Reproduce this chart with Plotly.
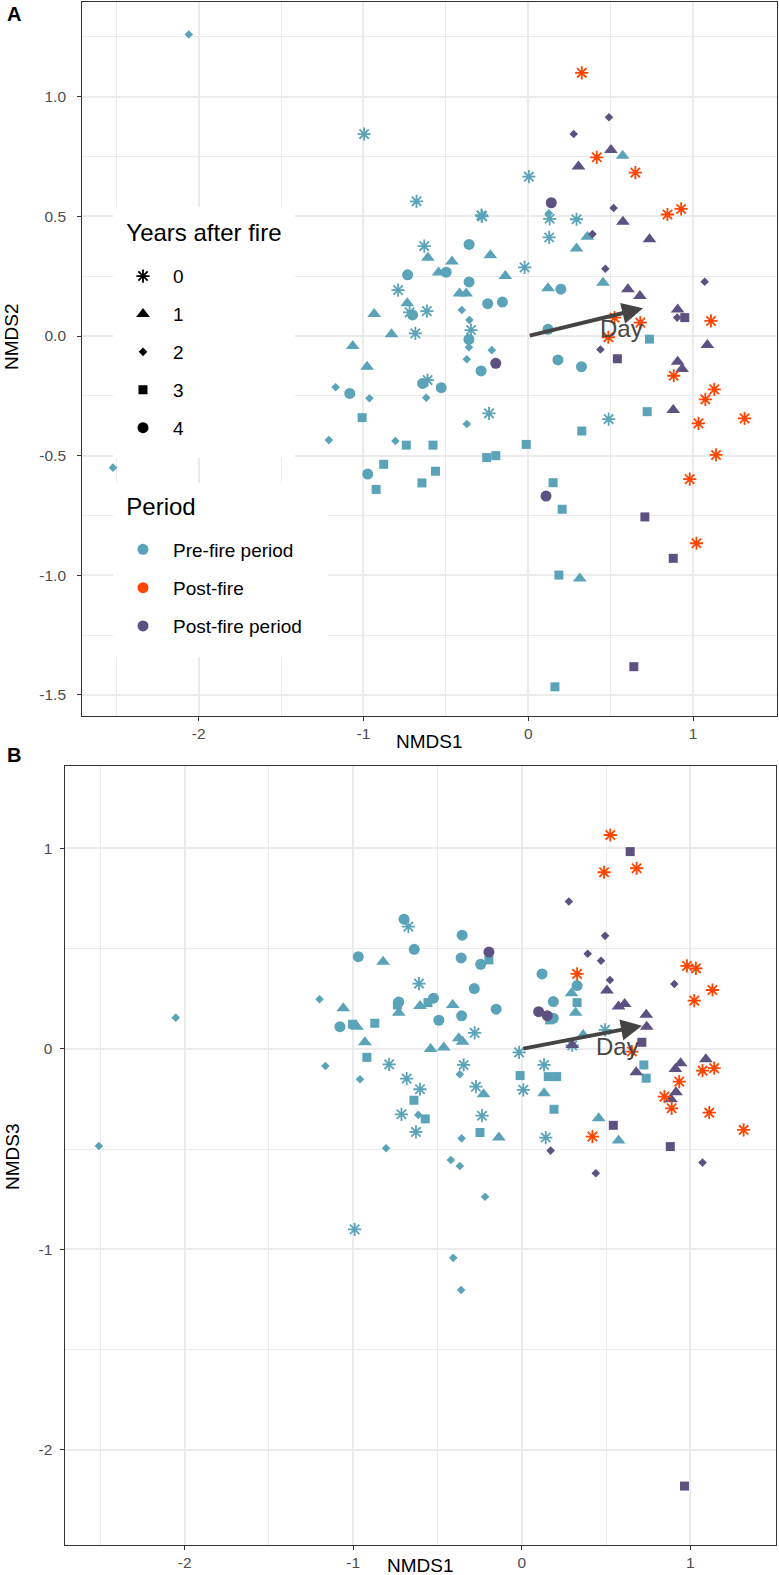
import plotly.graph_objects as go

FONT = "Liberation Sans, Arial, Helvetica, sans-serif"

# ---------------- data ----------------
# period codes: pre = Pre-fire period, post = Post-fire, postp = Post-fire period
# Panel A: NMDS1 vs NMDS2
a_nmds1 = [
    # pre-fire, year 0
    -0.996, 0.004, -0.678, -0.280, -0.284, -0.631, -0.022, -0.790, -0.720, -0.615,
    -0.347, -0.685, 0.130, 0.127, 0.293, -0.611, -0.238, 0.488,
    # pre-fire, year 1
    -0.609, -0.463, -0.230, -0.544, -0.139, -0.417, -0.377, -0.734, -0.935, -0.830,
    -1.065, 0.120, 0.359, 0.293, 0.573, 0.454, 0.313, -0.978,
    # pre-fire, year 2
    -2.060, -2.520, -1.210, -0.403, -0.357, -0.360, -0.221, 0.125, -0.373, -1.169,
    -0.964, -0.619, -0.373, -0.806,
    # pre-fire, year 3
    0.736, 0.722, 0.325, 0.151, 0.206, 0.186, 0.162, -1.008, -0.740, -0.578,
    -0.012, -0.252, -0.197, -0.877, -0.563, -0.645, -0.923,
    # pre-fire, year 4
    -0.359, -0.732, -0.498, -0.359, -0.246, -0.157, -0.702, -0.360, 0.120, 0.198,
    0.180, 0.323, -0.286, -1.083, -0.641, -0.528, -0.974,
    # post-fire period, year 1
    0.502, 0.305, 0.575, 0.736, 0.605, 0.678, 0.907, 1.087, 0.907, 0.934, 0.880,
    # post-fire period, year 2
    0.490, 0.276, 0.518, 0.390, 0.468, 1.071, 0.904, 0.438,
    # post-fire period, year 3
    0.950, 0.541, 0.708, 0.880, 0.641,
    # post-fire period, year 4
    0.140, -0.197, 0.108,
    # post-fire, year 0
    0.325, 0.416, 0.650, 0.845, 0.928, 1.109, 0.524, 0.680, 0.486, 0.883,
    1.129, 1.075, 1.033, 1.313, 1.140, 0.980, 1.021,
]
a_nmds2 = [
    0.844, 0.666, 0.563, 0.500, 0.505, 0.376, 0.287, 0.192, 0.099, 0.104,
    0.025, 0.011, 0.490, 0.412, 0.488, -0.184, -0.323, -0.347,
    0.327, 0.311, 0.338, 0.265, 0.251, 0.178, 0.178, 0.137, 0.092, 0.007,
    -0.042, 0.200, 0.415, 0.366, 0.753, 0.223, -1.013, -0.128,
    1.260, -0.550, -0.435, 0.109, 0.067, -0.047, -0.059, 0.513, -0.097, -0.214,
    -0.260, -0.258, -0.368, -0.439,
    -0.013, -0.316, -0.397, -0.613, -0.724, -0.999, -1.466, -0.341, -0.456, -0.456,
    -0.453, -0.508, -0.500, -0.536, -0.565, -0.614, -0.641,
    0.383, 0.256, 0.267, 0.226, 0.135, 0.142, 0.088, -0.014, 0.028, 0.196,
    -0.100, -0.128, -0.146, -0.240, -0.198, -0.216, -0.577,
    0.777, 0.708, 0.478, 0.404, 0.195, 0.167, 0.111, -0.038, -0.107, -0.138, -0.309,
    0.914, 0.844, 0.535, 0.426, 0.281, 0.227, 0.077, -0.056,
    0.077, -0.095, -0.756, -0.929, -1.382,
    0.557, -0.114, -0.669,
    1.100, 0.747, 0.683, 0.508, 0.531, 0.063, 0.077, 0.056, -0.005, -0.166,
    -0.223, -0.265, -0.365, -0.344, -0.497, -0.598, -0.866,
]
a_period = ["pre"] * 84 + ["postp"] * 27 + ["post"] * 17
a_years = ([0] * 18 + [1] * 18 + [2] * 14 + [3] * 17 + [4] * 17
           + [1] * 11 + [2] * 8 + [3] * 5 + [4] * 3 + [0] * 17)

# Panel B: NMDS1 vs NMDS3
b_nmds1 = [
    # pre-fire, year 0
    -0.673, -0.610, -0.280, -0.016, -0.787, -0.683, -0.604, -0.345, -0.272, -0.714,
    -0.628, -0.236, 0.009, 0.132, -0.992, 0.494, 0.299, 0.142,
    # pre-fire, year 1
    -0.823, -1.059, -0.730, -0.604, -0.410, -0.978, -0.931, -0.541, -0.463, -0.374,
    -0.351, -0.227, -0.136, 0.295, 0.319, 0.364, 0.132, 0.456, 0.574,
    # pre-fire, year 2
    -2.053, -2.509, -1.200, -1.165, -0.960, -0.368, -0.614, -0.357, -0.805, -0.421,
    -0.368, -0.218, -0.407, -0.360,
    # pre-fire, year 3
    -0.195, -0.738, -0.557, -1.004, -0.872, -0.919, -0.640, -0.573, -0.248, -0.010,
    0.328, 0.165, 0.157, 0.207, 0.724, 0.738, 0.191,
    # pre-fire, year 4
    -0.699, -0.354, -0.638, -0.244, -0.970, -0.360, -0.282, -0.730, -0.524, -0.357,
    -0.152, 0.120, -0.492, -1.079, 0.328, 0.187, 0.187,
    # post-fire period, year 1
    0.505, 0.574, 0.610, 0.738, 0.741, 0.299, 0.679, 0.942, 0.911, 1.092, 0.915, 0.885,
    # post-fire period, year 2
    0.279, 0.494, 0.391, 0.470, 0.523, 0.905, 0.171, 0.439, 1.072,
    # post-fire period, year 3
    0.643, 0.712, 0.543, 0.881, 0.965,
    # post-fire period, year 4
    -0.195, 0.100, 0.151,
    # post-fire, year 0
    0.525, 0.488, 0.681, 0.328, 0.980, 1.033, 1.131, 1.023, 0.653, 1.072,
    1.141, 0.934, 0.846, 0.889, 1.112, 1.316, 0.419,
]
b_nmds3 = [
    0.610, 0.326, 0.080, -0.017, -0.077, -0.148, -0.201, -0.080, -0.188, -0.326,
    -0.414, -0.333, -0.204, -0.080, -0.900, 0.095, 0.017, -0.442,
    0.435, 0.203, 0.181, 0.214, 0.219, 0.111, 0.033, 0.000, 0.007, 0.053,
    0.036, -0.226, -0.442, 0.278, 0.180, 0.070, -0.221, -0.346, -0.457,
    0.156, -0.484, 0.248, -0.085, -0.151, -0.126, -0.329, -0.446, -0.495, -0.554,
    -0.584, -0.737, -1.042, -1.202,
    0.444, 0.219, 0.231, 0.123, 0.128, -0.042, -0.256, -0.349, -0.417, -0.133,
    0.231, 0.145, -0.138, -0.138, -0.080, -0.146, -0.301,
    0.647, 0.567, 0.497, 0.422, 0.460, 0.454, 0.301, 0.234, 0.253, 0.165,
    0.198, 0.374, 0.143, 0.111, 0.316, 0.236, 0.153,
    0.291, 0.211, 0.224, 0.170, 0.111, 0.020, -0.116, -0.071, -0.100, -0.051, -0.216, -0.251,
    0.735, 0.564, 0.475, 0.440, 0.344, 0.324, -0.507, -0.620, -0.567,
    0.984, 0.033, -0.381, -0.487, -2.180,
    0.484, 0.186, 0.166,
    1.067, 0.881, 0.901, 0.374, 0.414, 0.402, 0.294, 0.241, -0.013, -0.108,
    -0.096, -0.163, -0.238, -0.296, -0.318, -0.404, -0.437,
]
b_period = ["pre"] * 85 + ["postp"] * 29 + ["post"] * 17
b_years = ([0] * 18 + [1] * 19 + [2] * 14 + [3] * 17 + [4] * 17
           + [1] * 12 + [2] * 9 + [3] * 5 + [4] * 3 + [0] * 17)

# Day vectors (envfit arrows)
day_a = [0.697, 0.116]
day_b = [0.713, 0.115]

year_levels = [0, 1, 2, 3, 4]
period_levels = ["pre", "post", "postp"]
period_labels = {"pre": "Pre-fire period", "post": "Post-fire", "postp": "Post-fire period"}

# ---------------- styles ----------------
COLORS = {"pre": "#5AA3B9", "post": "#FF4500", "postp": "#5D5182"}
SYMBOLS = {0: "asterisk-open", 1: "triangle-up", 2: "diamond", 3: "square", 4: "circle"}
SIZES = {0: 11, 1: 12, 2: 6.6, 3: 9, 4: 11}
NBSP = "\u00a0"

fig = go.Figure()


def add_points(xs, ys, periods, years, xa, ya):
    for p in ["pre", "postp", "post"]:
        for yr in year_levels:
            idx = [i for i in range(len(xs)) if periods[i] == p and years[i] == yr]
            if not idx:
                continue
            fig.add_trace(go.Scatter(
                x=[xs[i] for i in idx], y=[ys[i] for i in idx], mode="markers",
                marker=dict(symbol=SYMBOLS[yr], size=SIZES[yr], color=COLORS[p],
                            line=dict(width=1.8 if yr == 0 else 0, color=COLORS[p])),
                xaxis=xa, yaxis=ya, showlegend=False, hoverinfo="skip"))


assert len(a_nmds1) == len(a_nmds2) == len(a_period) == len(a_years)
assert len(b_nmds1) == len(b_nmds3) == len(b_period) == len(b_years)
add_points(a_nmds1, a_nmds2, a_period, a_years, "x", "y")
add_points(b_nmds1, b_nmds3, b_period, b_years, "x2", "y2")

# legend entries (keys only)
for yr in year_levels:
    fig.add_trace(go.Scatter(
        x=[None], y=[None], mode="markers", name=str(yr) + NBSP * 20, legend="legend",
        legendgroup="yr%d" % yr,
        marker=dict(symbol=SYMBOLS[yr], size=SIZES[yr], color="black",
                    line=dict(width=1.8 if yr == 0 else 0, color="black"))))
for p in period_levels:
    pad = 4 if p == "postp" else 0
    fig.add_trace(go.Scatter(
        x=[None], y=[None], mode="markers", name=period_labels[p] + NBSP * pad,
        legend="legend2", legendgroup="p_" + p,
        marker=dict(symbol="circle", size=11, color=COLORS[p])))

W, H = 779, 1575
A_L, A_R, A_T, A_B = 81.7, 776.7, 2.0, 716.0
B_L, B_R, B_T, B_B = 65.0, 776.0, 766.0, 1545.0

GRID = "#EBEBEB"
axis_common = dict(
    showline=True, mirror=True, linecolor="#333333", linewidth=1.1,
    ticks="outside", ticklen=3.5, tickwidth=1.1, tickcolor="#333333",
    showgrid=True, gridcolor=GRID, gridwidth=1.6, zeroline=False,
    tickfont=dict(size=15.5, color="#4D4D4D", family=FONT), tickmode="array",
)

xt = [-2, -1, 0, 1]
xt_txt = ["-2", "-1", "0", "1"]
xminor = [-2.5, -1.5, -0.5, 0.5]

fig.update_layout(
    width=W, height=H, margin=dict(l=0, r=0, t=0, b=0),
    paper_bgcolor="white", plot_bgcolor="white",
    font=dict(family=FONT, color="black"),
    xaxis=dict(domain=[A_L / W, A_R / W], range=[-2.71, 1.508], anchor="y",
               tickvals=xt, ticktext=xt_txt,
               minor=dict(tickvals=xminor, showgrid=True, gridcolor=GRID, gridwidth=0.8, ticks=""),
               **axis_common),
    yaxis=dict(domain=[1 - A_B / H, 1 - A_T / H], range=[-1.588, 1.396], anchor="x",
               tickvals=[-1.5, -1.0, -0.5, 0.0, 0.5, 1.0],
               ticktext=["-1.5", "-1.0", "-0.5", "0.0", "0.5", "1.0"],
               ticklabelstandoff=8,
               minor=dict(tickvals=[-1.25, -0.75, -0.25, 0.25, 0.75, 1.25], showgrid=True,
                          gridcolor=GRID, gridwidth=0.8, ticks=""),
               **axis_common),
    xaxis2=dict(domain=[B_L / W, B_R / W], range=[-2.71, 1.508], anchor="y2",
                tickvals=xt, ticktext=xt_txt,
                minor=dict(tickvals=xminor, showgrid=True, gridcolor=GRID, gridwidth=0.8, ticks=""),
                **axis_common),
    yaxis2=dict(domain=[1 - B_B / H, 1 - B_T / H], range=[-2.474, 1.411], anchor="x2",
                tickvals=[-2, -1, 0, 1], ticktext=["-2", "-1", "0", "1"],
                ticklabelstandoff=5,
                minor=dict(tickvals=[-1.5, -0.5, 0.5], showgrid=True,
                           gridcolor=GRID, gridwidth=0.8, ticks=""),
                **axis_common),
    legend=dict(x=113 / W, y=1 - 257.2 / H, xanchor="left", yanchor="top",
                bgcolor="white", borderwidth=0, tracegroupgap=10.2, itemwidth=50,
                font=dict(size=19, color="black", family=FONT)),
    legend2=dict(x=113 / W, y=1 - 530.5 / H, xanchor="left", yanchor="top",
                 bgcolor="white", borderwidth=0, tracegroupgap=10.6, itemwidth=50,
                 font=dict(size=19, color="black", family=FONT)),
)

ann = []
# legend titles and background padding boxes
ann.append(dict(x=113 / W, y=1 - 207 / H, xref="paper", yref="paper", xanchor="left", yanchor="top",
                width=182, height=257.2 - 207, align="left", valign="middle",
                text=NBSP * 2 + "Years after fire", showarrow=False, bgcolor="white",
                borderpad=0, borderwidth=0, font=dict(size=24, color="black", family=FONT)))
ann.append(dict(x=113 / W, y=1 - 440 / H, xref="paper", yref="paper", xanchor="left", yanchor="top",
                width=182, height=18, text=NBSP, showarrow=False, bgcolor="white",
                borderpad=0, borderwidth=0, font=dict(size=10)))
ann.append(dict(x=113 / W, y=1 - 483 / H, xref="paper", yref="paper", xanchor="left", yanchor="top",
                width=215, height=530.5 - 483, align="left", valign="middle",
                text=NBSP * 2 + "Period", showarrow=False, bgcolor="white",
                borderpad=0, borderwidth=0, font=dict(size=24, color="black", family=FONT)))
ann.append(dict(x=113 / W, y=1 - 640 / H, xref="paper", yref="paper", xanchor="left", yanchor="top",
                width=215, height=17, text=NBSP, showarrow=False, bgcolor="white",
                borderpad=0, borderwidth=0, font=dict(size=10)))
# arrows
for xr, yr_, vec in [("x", "y", day_a), ("x2", "y2", day_b)]:
    ann.append(dict(x=vec[0], y=vec[1], ax=0, ay=0, xref=xr, yref=yr_, axref=xr, ayref=yr_,
                    text="", showarrow=True, arrowhead=2, arrowsize=1.05, arrowwidth=4,
                    arrowcolor="#444444", standoff=0))
ann.append(dict(x=0.565, y=0.033, xref="x", yref="y", text="Day", showarrow=False,
                font=dict(size=24, color="#464646", family=FONT)))
ann.append(dict(x=0.568, y=0.010, xref="x2", yref="y2", text="Day", showarrow=False,
                font=dict(size=24, color="#464646", family=FONT)))
# axis titles
TF = dict(size=19, color="black", family=FONT)
ann.append(dict(x=(A_L + A_R) / 2 / W, y=1 - 742 / H, xref="paper", yref="paper", text="NMDS1",
                xanchor="center", yanchor="middle", showarrow=False, font=TF))
ann.append(dict(x=12 / W, y=1 - 337 / H, xref="paper", yref="paper", text="NMDS2",
                xanchor="center", yanchor="middle", textangle=-90, showarrow=False, font=TF))
ann.append(dict(x=(B_L + B_R) / 2 / W, y=1 - 1565 / H, xref="paper", yref="paper", text="NMDS1",
                xanchor="center", yanchor="middle", showarrow=False, font=TF))
ann.append(dict(x=12 / W, y=1 - 1157 / H, xref="paper", yref="paper", text="NMDS3",
                xanchor="center", yanchor="middle", textangle=-90, showarrow=False, font=TF))
# panel tags
ann.append(dict(x=14 / W, y=1 - 14 / H, xref="paper", yref="paper", text="<b>A</b>",
                xanchor="center", yanchor="middle", showarrow=False,
                font=dict(size=20, color="black", family=FONT)))
ann.append(dict(x=14 / W, y=1 - 755 / H, xref="paper", yref="paper", text="<b>B</b>",
                xanchor="center", yanchor="middle", showarrow=False,
                font=dict(size=20, color="black", family=FONT)))
fig.update_layout(annotations=ann)

fig.write_html("out.html", config={"displayModeBar": False})
